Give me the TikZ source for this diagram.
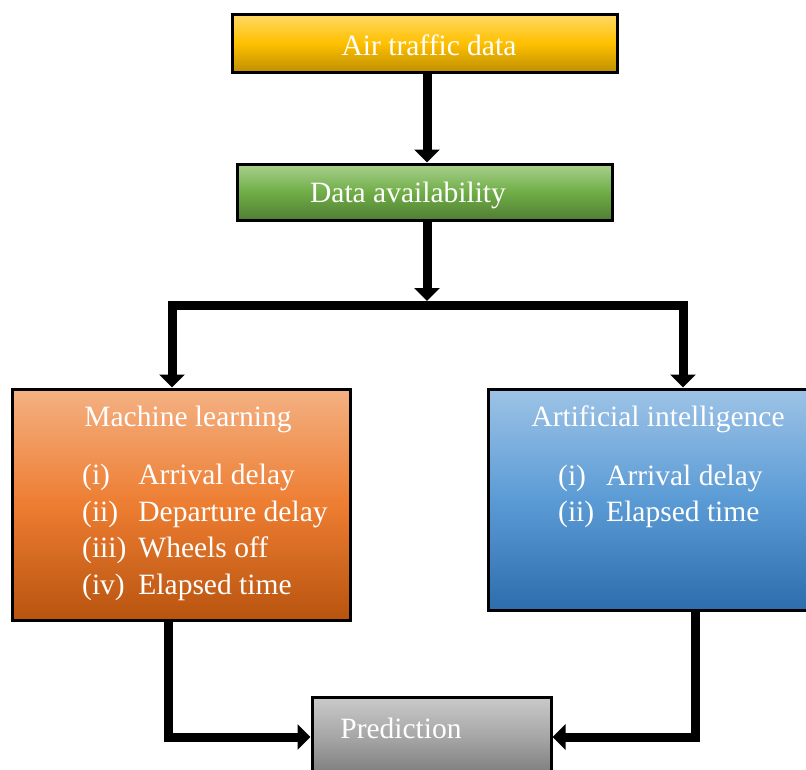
\documentclass[tikz,border=0pt]{standalone}
\usepackage{fontspec}
\setmainfont{Liberation Serif}
\usepackage{tikz}
\usetikzlibrary{arrows.meta, positioning}
\usepackage{xcolor}
\definecolor{goldtop}{HTML}{FFD966}
\definecolor{goldmid}{HTML}{FFC000}
\definecolor{goldbot}{HTML}{BF9000}
\definecolor{greentop}{HTML}{A9D18E}
\definecolor{greenmid}{HTML}{70AD47}
\definecolor{greenbot}{HTML}{507E32}
\definecolor{orangetop}{HTML}{F4B183}
\definecolor{orangemid}{HTML}{ED7D31}
\definecolor{orangebot}{HTML}{B8540F}
\definecolor{bluetop}{HTML}{9DC3E6}
\definecolor{bluemid}{HTML}{5B9BD5}
\definecolor{bluebot}{HTML}{2E6DAD}
\definecolor{graytop}{HTML}{CACACA}
\definecolor{graymid}{HTML}{A6A6A6}
\definecolor{graybot}{HTML}{7A7A7A}

\begin{document}
\begin{tikzpicture}[
      x=1pt, y=-1pt,
      block/.style={rectangle, draw=black, line width=3pt, inner sep=0pt},
      txt/.style={text=white, inner sep=0pt, font=\fontsize{29.5}{36.5}\selectfont},
      conn/.style={line width=9pt},
      arr/.style={conn, -{Triangle[width=25pt, length=13pt]}},
      darr/.style={conn, {Triangle[width=25pt, length=13pt]}-{Triangle[width=25pt, length=13pt]}}
    ]
    \useasboundingbox (0,0) rectangle (806,769);
    \node[block, minimum width=385pt, minimum height=58pt,
          top color=goldtop, bottom color=goldbot, middle color=goldmid] (atd) at (424.5,43) {};
    \node[block, minimum width=375pt, minimum height=56pt,
          top color=greentop, bottom color=greenbot, middle color=greenmid] (da) at (424.5,192) {};
    \node[block, minimum width=338pt, minimum height=231pt,
          top color=orangetop, bottom color=orangebot, middle color=orangemid] (ml) at (181,504.5) {};
    \node[block, minimum width=342pt, minimum height=221pt,
          top color=bluetop, bottom color=bluebot, middle color=bluemid] (ai) at (659,499.5) {};
    \node[block, minimum width=239pt, minimum height=80pt,
          top color=graytop, bottom color=graybot, middle color=graymid] (pred) at (431.5,737) {};

    \node[txt] (atdtxt) at (429,45) {Air traffic data};
    \node[txt] (datxt) at (408,195) {Data availability};
    \node[txt] (mlhead) at (188,419) {Machine learning};
    \node[txt, anchor=west] (mllist) at (82,532) {\begin{tabular}{@{}l@{\hspace{12pt}}l@{}}
        (i) & Arrival delay\\ (ii) & Departure delay\\ (iii) & Wheels off\\ (iv) & Elapsed time
      \end{tabular}};
    \node[txt] (aihead) at (658,419) {Artificial intelligence};
    \node[txt, anchor=west] (ailist) at (558,496) {\begin{tabular}{@{}l@{\hspace{12pt}}l@{}}
        (i) & Arrival delay\\ (ii) & Elapsed time
      \end{tabular}};
    \node[txt] (predtxt) at (401,728) {Prediction};

    \coordinate (split) at (427,305);
    \draw[arr] (atd.south -| split) -- (da.north -| split);
    \draw[arr] (da.south -| split) -- ([yshift=4pt]split);
    \draw[darr] ([xshift=-9pt]ml.north) |- (split) -| ([xshift=24pt]ai.north);
    \draw[arr] ([xshift=-13pt]ml.south) |- (pred.west);
    \draw[arr] ([xshift=36pt]ai.south) |- (pred.east);
  \end{tikzpicture}
\end{document}
